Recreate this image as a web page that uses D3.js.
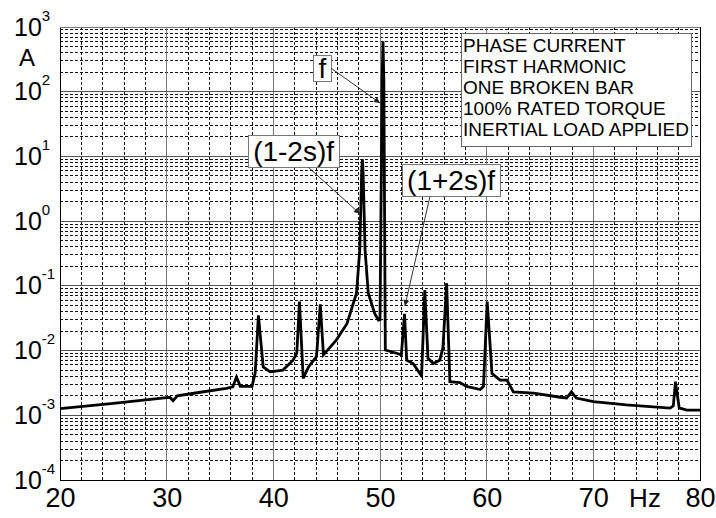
<!DOCTYPE html>
<html>
<head>
<meta charset="utf-8">
<script src="https://cdn.jsdelivr.net/npm/d3@7/dist/d3.min.js"></script>
<style>
  html, body { margin: 0; padding: 0; background: #fff; }
  svg { display: block; font-family: "Liberation Sans", Arial, sans-serif; }
</style>
</head>
<body>
<svg id="chart" width="716" height="518"></svg>
<script>
// Spectrum of the phase current (frequency in Hz, amplitude in A)
const freqHz = [
  20.0, 25.0, 30.0, 30.3, 30.6, 31.0, 33.0, 35.6, 36.2, 36.55, 36.9, 38.0, 38.3, 38.6,
  39.05, 39.7, 40.9, 41.85, 42.2, 42.45, 42.8, 43.3, 44.05, 44.4, 44.7, 45.9, 46.9,
  47.8, 48.1, 48.28, 48.35, 48.42, 48.6, 48.9, 49.5, 49.85, 50.0, 50.2, 50.28, 50.36, 50.5,
  51.55, 52.0, 52.3, 52.5, 53.1, 53.75, 53.9, 54.2, 54.5, 55.0, 55.6, 55.9, 56.25,
  56.55, 57.5, 58.1, 59.4, 59.7, 60.05, 60.5, 61.25, 61.9, 62.5, 64.4, 66.9, 67.5,
  67.95, 68.4, 70.0, 73.1, 77.2, 77.5, 77.7, 78.05, 78.75, 80.0
];
const currentA = [
  1.27e-3, 1.53e-3, 1.88e-3, 1.9e-3, 1.68e-3, 2.0e-3, 2.25e-3, 2.6e-3, 2.75e-3, 3.9e-3, 2.8e-3, 2.8e-3, 4.5e-3, 0.035,
  5.6e-3, 4.7e-3, 5.0e-3, 7.1e-3, 9.1e-3, 0.057, 3.7e-3, 5.6e-3, 8.1e-3, 0.052, 8.6e-3, 0.0145, 0.026,
  0.077, 0.357, 5.5, 9.0, 5.5, 0.357, 0.077, 0.0376, 0.0295, 0.03, 150, 600, 150, 0.0102,
  9.1e-3, 8.6e-3, 0.037, 7.1e-3, 6.3e-3, 4.4e-3, 4.1e-3, 0.086, 7.6e-3, 6.3e-3, 7.1e-3, 0.011, 0.11,
  3.3e-3, 3.2e-3, 2.8e-3, 2.5e-3, 2.8e-3, 0.057, 4.4e-3, 3.5e-3, 3.5e-3, 2.3e-3, 2.2e-3, 1.9e-3, 1.85e-3,
  2.3e-3, 1.85e-3, 1.63e-3, 1.45e-3, 1.29e-3, 1.4e-3, 3.3e-3, 1.3e-3, 1.2e-3, 1.2e-3
];

const xTicks = [20, 30, 40, 50, 60, 70, 80];
const yExponents = [-4, -3, -2, -1, 0, 1, 2, 3];
const legendLines = [
  "PHASE CURRENT",
  "FIRST HARMONIC",
  "ONE BROKEN BAR",
  "100% RATED TORQUE",
  "INERTIAL LOAD APPLIED"
];
// Labelled components: text, label centre (Hz, A), arrow target (Hz, A)
const callouts = [
  { text: "f",       at: [44.6, 232],  to: [50.0, 67] },
  { text: "(1-2s)f", at: [41.9, 12.1], to: [48.12, 1.3] },
  { text: "(1+2s)f", at: [56.66, 4.4], to: [52.34, 0.049] }
];

const svg = d3.select("#chart");
const plotL = 60, plotR = 700, plotT = 27, plotB = 480;

const x = d3.scaleLinear().domain([20, 80]).range([plotL, plotR]);
const y = d3.scaleLog().domain([1e-4, 1e3]).range([plotB, plotT]);

const grid = svg.append("g");

// Minor vertical grid every 2 Hz
d3.range(22, 80, 2).filter(v => v % 10 !== 0).forEach(v => {
  grid.append("line")
    .attr("x1", x(v)).attr("x2", x(v))
    .attr("y1", plotT).attr("y2", plotB)
    .attr("stroke", "#111").attr("stroke-width", 1)
    .attr("stroke-dasharray", "3,2")
    .attr("shape-rendering", "crispEdges");
});
// Minor horizontal grid at 2..9 x 10^n
yExponents.slice(0, -1).forEach(e => {
  for (let k = 2; k <= 9; k++) {
    const v = k * Math.pow(10, e);
    grid.append("line")
      .attr("x1", plotL).attr("x2", plotR)
      .attr("y1", y(v)).attr("y2", y(v))
      .attr("stroke", "#111").attr("stroke-width", 1)
      .attr("stroke-dasharray", "3,2")
      .attr("shape-rendering", "crispEdges");
  }
});
// Major grid
xTicks.slice(1, -1).forEach(v => {
  grid.append("line")
    .attr("x1", x(v)).attr("x2", x(v))
    .attr("y1", plotT).attr("y2", plotB)
    .attr("stroke", "#777").attr("stroke-width", 1)
    .attr("shape-rendering", "crispEdges");
});
yExponents.slice(1, -1).forEach(e => {
  grid.append("line")
    .attr("x1", plotL).attr("x2", plotR)
    .attr("y1", y(Math.pow(10, e))).attr("y2", y(Math.pow(10, e)))
    .attr("stroke", "#555").attr("stroke-width", 1)
    .attr("shape-rendering", "crispEdges");
});

// Spectrum trace
const line = d3.line()
  .x((d, i) => x(freqHz[i]))
  .y((d, i) => y(currentA[i]));
svg.append("path")
  .datum(currentA)
  .attr("d", line)
  .attr("fill", "none")
  .attr("stroke", "#000")
  .attr("stroke-width", 2.8)
  .attr("stroke-linejoin", "miter")
  .attr("stroke-miterlimit", 3);

// Plot frame
svg.append("rect")
  .attr("x", plotL).attr("y", plotT)
  .attr("width", plotR - plotL).attr("height", plotB - plotT)
  .attr("fill", "none").attr("stroke", "#000").attr("stroke-width", 1)
  .attr("shape-rendering", "crispEdges");
svg.append("line")
  .attr("x1", plotL).attr("x2", plotR).attr("y1", plotT).attr("y2", plotT)
  .attr("stroke", "#777").attr("stroke-width", 1).attr("shape-rendering", "crispEdges");

// X axis labels
const xAxis = d3.axisBottom(x).tickValues(xTicks).tickSize(0).tickPadding(0)
  .tickFormat(d3.format("d"));
const gx = svg.append("g").attr("transform", `translate(0,${plotB})`).call(xAxis);
gx.select(".domain").remove();
gx.selectAll("text")
  .attr("font-family", "'Liberation Sans', Arial, sans-serif")
  .attr("font-size", 27).attr("fill", "#000")
  .attr("dy", null).attr("y", 27);
svg.append("text")
  .attr("x", 645).attr("y", 507)
  .attr("text-anchor", "middle")
  .attr("font-size", 26).attr("fill", "#000")
  .text("Hz");

// Y axis labels: 10 with superscript exponent
const yAxis = d3.axisLeft(y).tickValues(yExponents.map(e => Math.pow(10, e)))
  .tickSize(0).tickPadding(0).tickFormat(() => "");
const gy = svg.append("g").attr("transform", `translate(${plotL},0)`).call(yAxis);
gy.select(".domain").remove();
gy.selectAll(".tick text").remove();
gy.selectAll(".tick").each(function(d) {
  const e = Math.round(Math.log10(d));
  const t = d3.select(this).append("text")
    .attr("x", -46).attr("y", 8)
    .attr("text-anchor", "start")
    .attr("font-family", "'Liberation Sans', Arial, sans-serif")
    .attr("fill", "#000");
  t.append("tspan").attr("font-size", 25).text("10");
  t.append("tspan").attr("font-size", 15).attr("dy", -15).text(String(e));
});
svg.append("text")
  .attr("x", 27).attr("y", 66)
  .attr("text-anchor", "middle")
  .attr("font-size", 24).attr("fill", "#000")
  .text("A");

// Legend box
const lg = svg.append("g");
lg.append("rect")
  .attr("x", 461.5).attr("y", 33.5).attr("width", 230).attr("height", 113)
  .attr("fill", "#fff").attr("stroke", "#666").attr("stroke-width", 1);
legendLines.forEach((s, i) => {
  lg.append("text")
    .attr("x", 463).attr("y", 52 + i * 21)
    .attr("font-size", 19).attr("fill", "#000")
    .text(s);
});

// Callouts with arrows
const defs = svg.append("defs");
defs.append("marker")
  .attr("id", "arrowhead")
  .attr("viewBox", "0 0 10 10").attr("refX", 10).attr("refY", 5)
  .attr("markerWidth", 9).attr("markerHeight", 6)
  .attr("markerUnits", "userSpaceOnUse")
  .attr("orient", "auto")
  .append("path").attr("d", "M0,0 L10,5 L0,10 z").attr("fill", "#222");

const calloutSize = 28;
callouts.forEach(c => {
  const cx = x(c.at[0]), cy = y(c.at[1]);
  const g = svg.append("g");
  const t = g.append("text")
    .attr("x", cx).attr("y", cy + calloutSize * 0.36)
    .attr("text-anchor", "middle")
    .attr("font-size", calloutSize).attr("fill", "#000")
    .text(c.text);
  const bb = t.node().getBBox();
  const hasParen = c.text.includes("(");
  const h = hasParen ? 32 : 26;
  const w = bb.width + 10;
  const bx = Math.round(cx - w / 2) + 0.5, by = Math.round(cy - h / 2) + 0.5;
  g.insert("rect", "text")
    .attr("x", bx).attr("y", by)
    .attr("width", Math.round(w)).attr("height", h)
    .attr("fill", "#fff").attr("stroke", "#777").attr("stroke-width", 1);
  c.box = { x: bx, y: by, w: Math.round(w), h: h };
});
// Arrow lines start at the label boxes
const arrowStarts = [
  b => [b.x + b.w, b.y + b.h * 0.5],
  b => [b.x + b.w * 0.66, b.y + b.h],
  b => [b.x + b.w * 0.28, b.y + b.h]
];
callouts.forEach((c, i) => {
  const [sx, sy] = arrowStarts[i](c.box);
  svg.append("line")
    .attr("x1", sx).attr("y1", sy)
    .attr("x2", x(c.to[0])).attr("y2", y(c.to[1]))
    .attr("stroke", "#333").attr("stroke-width", 1)
    .attr("marker-end", "url(#arrowhead)");
});
</script>
</body>
</html>
